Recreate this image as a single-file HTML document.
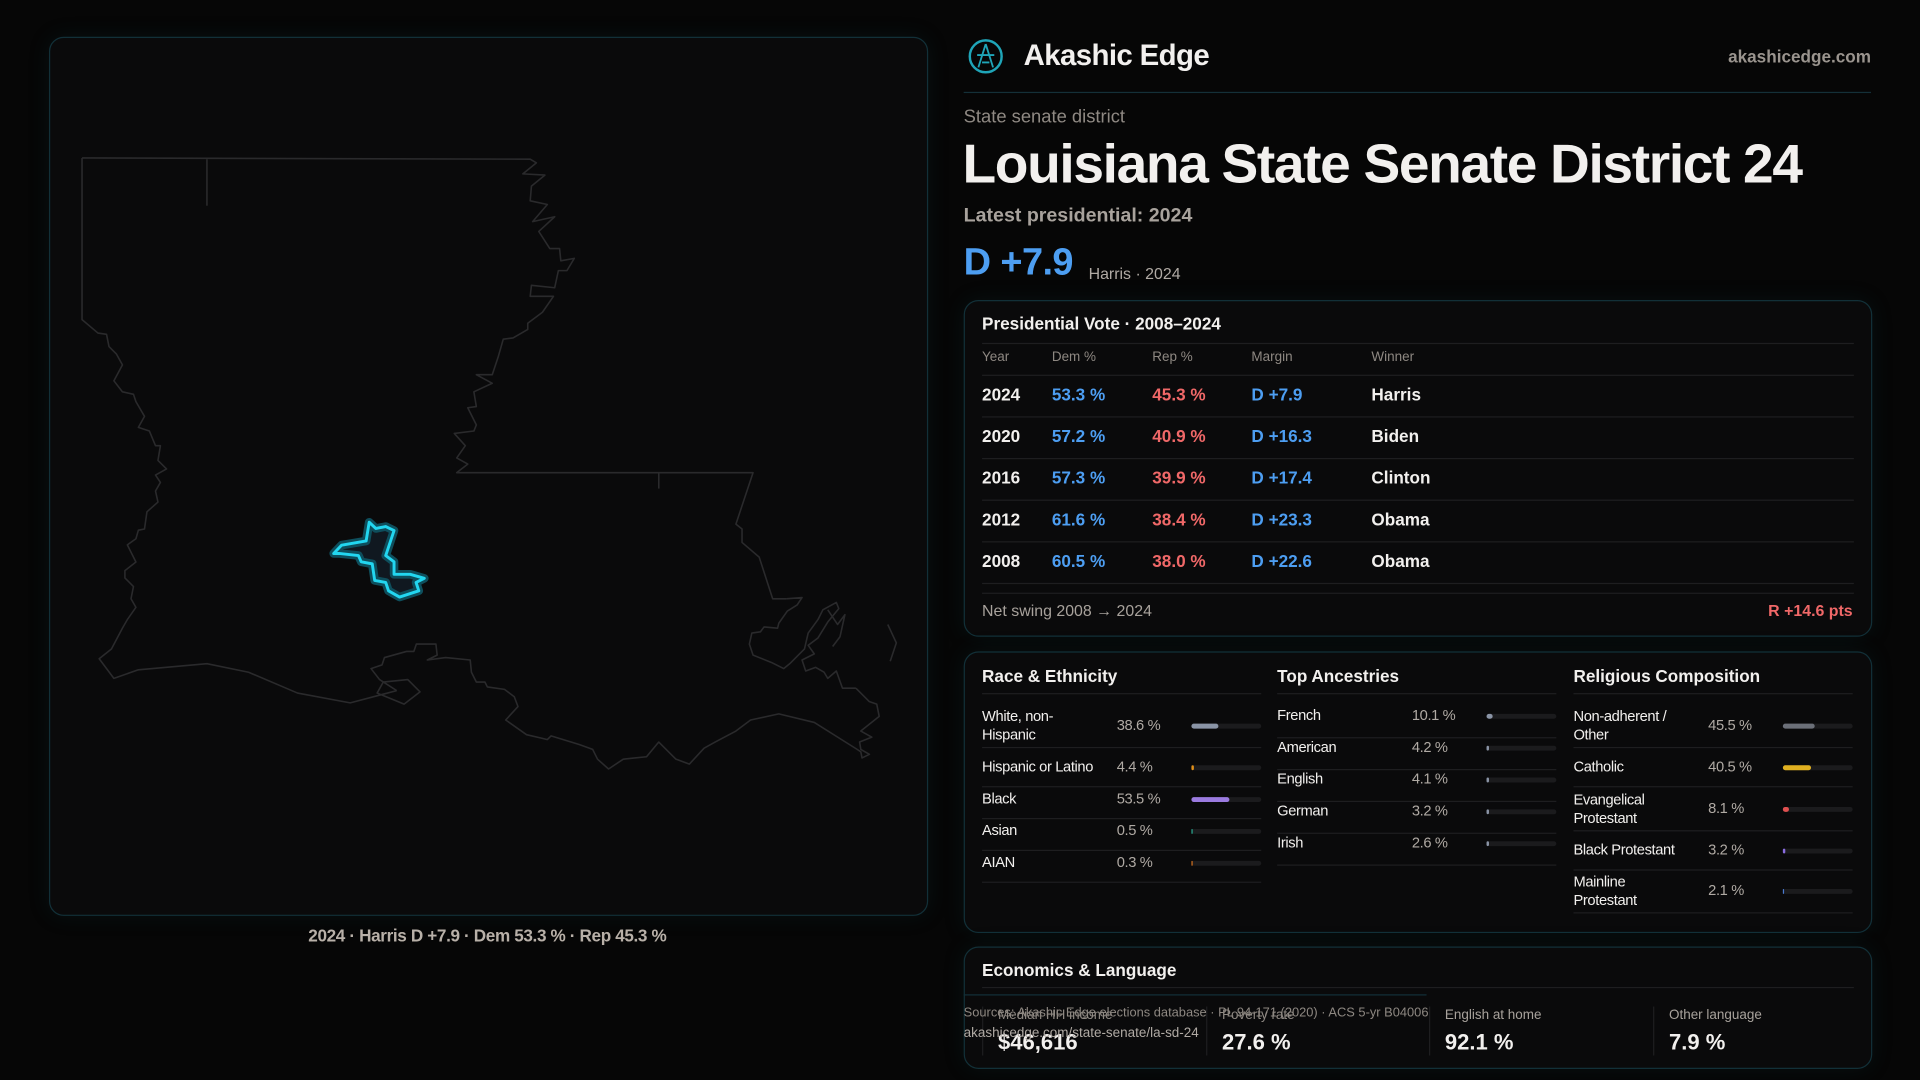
<!DOCTYPE html>
<html><head><meta charset="utf-8">
<style>
html,body{margin:0;padding:0;background:#060606;width:1920px;height:1080px;overflow:hidden}
#w{position:absolute;left:0;top:0;width:1568px;height:882px;transform:scale(1.22449);transform-origin:0 0;font-family:"Liberation Sans",sans-serif;color:#f2f0ee}
.a{position:absolute;white-space:nowrap}
.card{position:absolute;border:1px solid #123038;border-radius:12px;background:#0a0a0b;box-shadow:0 0 18px rgba(20,80,90,0.15)}
.hl{position:absolute;height:1px;background:#1e1e20}
.g{color:#8e8882}
.b{color:#4d9ef2}.r{color:#f06868}
.tr{position:absolute;height:4px;border-radius:2px;background:#1b1b1d;width:57px}
.br{position:absolute;left:0;top:0;height:4px;border-radius:2px}
.sm{font-size:12px;letter-spacing:-0.3px}
</style></head><body><div id="w">
<div class="card" style="left:40px;top:30px;width:716px;height:716px"></div>
<svg class="a" style="left:0;top:0" width="760" height="760" viewBox="0 0 760 760">
<g fill="none" stroke="#2a2a2c" stroke-width="1.3" stroke-linejoin="round">
<polyline points="67,129 433,130 438,133 427,142 445,143 434,152 433,164 447,167 435,181 453,177 440,189 449,203 457,203 458,213 469,211 463,221 456,221 453,235 434,233 433,242 452,242 443,255 431,264 431,269 419,276 411,277 407,291 402,306 389,306 402,313 387,320 389,332 382,333 389,347 387,352 371,354 380,364 373,374 382,379 373,386 615,386 601,428 606,432 606,443 620,455 631,489 642,489"/>
<line x1="169" y1="130" x2="169" y2="168"/>
<line x1="538" y1="386" x2="538" y2="399"/>
<polyline points="67,129 67,261 80,272 87,273 89,283 95,289 100,298 93,311 100,320 109,322 111,328 118,340 113,349 122,352 127,364 131,364 129,376 136,383 127,388 131,394 127,401 129,410 120,418 118,432 113,433 111,440 104,445 111,459 102,466 102,472 109,479 107,489 111,496 104,506 100,513 91,530 81,538 93,554 113,547 169,542 203,549 243,566 286,574 324,564"/>
<polyline points="324,564 310,555 303,546 312,543 314,537 332,532 338,532 340,526 356,526 357,535 349,539 364,537 384,539 385,549 389,557 396,557 398,561 412,563 420,569 423,577 413,588 430,600 443,603 447,604 450,601 473,608 484,612 488,620 497,628 509,620 528,618 538,606 552,620 563,624 575,611 584,606 601,597 613,588 636,583 665,590 700,612 703,614 704,619 710,616 703,612 702,606 712,602 703,597 718,585 716,575 710,573 699,562"/>
<polyline points="699,562 688,562 683,548 676,554 673,549 666,545 658,548 655,539 665,534 660,527 668,521 676,508 685,497 683,492 672,498 668,506 660,517 657,530 652,535 645,542 640,546 630,541 615,535 612,526 614,517 621,516 624,512 635,513 636,509 643,499 651,494 655,488 642,489"/>
<polygon points="313,557 333,555 343,565 330,575 308,566"/>
<polyline points="725,510 732,525 727,540"/>
<polyline points="676,498 684,510 690,502 686,520 680,528"/>
</g>
<polygon points="301.5,426.5 307,431.6 315,430 321.8,433.3 315,453.7 321.8,458.8 321.8,469 335,469 346.5,472.3 339.8,475.7 342,482.5 326.3,487.6 317.3,482.5 315,475.7 306,474 304,460.5 295,458.8 292.7,453.7 277,452 272.5,452 279,445.2 299,441.8" fill="#101820" stroke="#0e4e5c" stroke-width="7" stroke-linejoin="round"/>
<polygon points="301.5,426.5 307,431.6 315,430 321.8,433.3 315,453.7 321.8,458.8 321.8,469 335,469 346.5,472.3 339.8,475.7 342,482.5 326.3,487.6 317.3,482.5 315,475.7 306,474 304,460.5 295,458.8 292.7,453.7 277,452 272.5,452 279,445.2 299,441.8" fill="none" stroke="#22d6f0" stroke-width="2.4" stroke-linejoin="round"/>
</svg>
<div class="a" style="left:40px;width:716px;text-align:center;top:756px;font-size:14px;font-weight:bold;letter-spacing:-0.3px;color:#b8b0a8">2024 · Harris D +7.9 · Dem 53.3 % · Rep 45.3 %</div>

<svg class="a" style="left:790px;top:31px" width="30" height="30" viewBox="0 0 30 30"><circle cx="15" cy="15" r="13" fill="none" stroke="#1fa5b8" stroke-width="2"/><path d="M15 5 L9 24 M15 5 L21 24 M8 14 L22 14 M12 20 L18 20" stroke="#1fa5b8" stroke-width="1.5" fill="none"/></svg>
<div class="a" style="left:836px;top:32px;font-size:24px;font-weight:bold;letter-spacing:-0.5px">Akashic Edge</div>
<div class="a" style="right:40px;top:38px;font-size:14px;font-weight:bold;color:#9a948e">akashicedge.com</div>
<div class="hl" style="left:787px;top:75px;width:741px;background:#143038"></div>
<div class="a" style="left:787px;top:87px;font-size:15px;color:#8f8983">State senate district</div>
<div class="a" style="left:786px;top:108px;font-size:45px;font-weight:bold;letter-spacing:-1.1px">Louisiana State Senate District 24</div>
<div class="a" style="left:787px;top:168px;font-size:16px;font-weight:bold;color:#a8a29c">Latest presidential: 2024</div>
<div class="a b" style="left:787px;top:196px;font-size:31px;font-weight:bold;letter-spacing:-0.5px">D +7.9</div>
<div class="a" style="left:889px;top:216px;font-size:13px;color:#b0aaa4">Harris · 2024</div>

<div class="card" style="left:787px;top:245px;width:740px;height:273px"></div>
<div class="a" style="left:802px;top:256px;font-size:14px;font-weight:bold">Presidential Vote · 2008–2024</div>
<div class="hl" style="left:802px;top:280px;width:712px"></div>
<div class="a g" style="left:802px;top:286px;font-size:11px">Year</div>
<div class="a g" style="left:859px;top:286px;font-size:11px">Dem %</div>
<div class="a g" style="left:941px;top:286px;font-size:11px">Rep %</div>
<div class="a g" style="left:1022px;top:286px;font-size:11px">Margin</div>
<div class="a g" style="left:1120px;top:286px;font-size:11px">Winner</div>
<div class="hl" style="left:802px;top:306px;width:712px"></div>
<div style="position:absolute;left:0;top:0;font-size:14px;font-weight:bold">
<div class="a" style="left:802px;top:314px">2024</div><div class="a b" style="left:859px;top:314px">53.3 %</div><div class="a r" style="left:941px;top:314px">45.3 %</div><div class="a b" style="left:1022px;top:314px">D +7.9</div><div class="a" style="left:1120px;top:314px">Harris</div>
<div class="a" style="left:802px;top:348px">2020</div><div class="a b" style="left:859px;top:348px">57.2 %</div><div class="a r" style="left:941px;top:348px">40.9 %</div><div class="a b" style="left:1022px;top:348px">D +16.3</div><div class="a" style="left:1120px;top:348px">Biden</div>
<div class="a" style="left:802px;top:382px">2016</div><div class="a b" style="left:859px;top:382px">57.3 %</div><div class="a r" style="left:941px;top:382px">39.9 %</div><div class="a b" style="left:1022px;top:382px">D +17.4</div><div class="a" style="left:1120px;top:382px">Clinton</div>
<div class="a" style="left:802px;top:416px">2012</div><div class="a b" style="left:859px;top:416px">61.6 %</div><div class="a r" style="left:941px;top:416px">38.4 %</div><div class="a b" style="left:1022px;top:416px">D +23.3</div><div class="a" style="left:1120px;top:416px">Obama</div>
<div class="a" style="left:802px;top:450px">2008</div><div class="a b" style="left:859px;top:450px">60.5 %</div><div class="a r" style="left:941px;top:450px">38.0 %</div><div class="a b" style="left:1022px;top:450px">D +22.6</div><div class="a" style="left:1120px;top:450px">Obama</div>
</div>
<div class="hl" style="left:802px;top:340px;width:712px"></div>
<div class="hl" style="left:802px;top:374px;width:712px"></div>
<div class="hl" style="left:802px;top:408px;width:712px"></div>
<div class="hl" style="left:802px;top:442px;width:712px"></div>
<div class="hl" style="left:802px;top:476px;width:712px"></div>
<div class="hl" style="left:802px;top:484px;width:712px"></div>
<div class="a" style="left:802px;top:491px;font-size:13px;color:#a8a29c">Net swing 2008 → 2024</div>
<div class="a r" style="right:55px;top:491px;font-size:13px;font-weight:bold">R +14.6 pts</div>

<div class="card" style="left:787px;top:532px;width:740px;height:228px"></div>
<div class="a" style="left:802px;top:544px;font-size:14px;font-weight:bold">Race &amp; Ethnicity</div>
<div class="a" style="left:1043px;top:544px;font-size:14px;font-weight:bold">Top Ancestries</div>
<div class="a" style="left:1285px;top:544px;font-size:14px;font-weight:bold">Religious Composition</div>
<div class="hl" style="left:802px;top:566px;width:228px"></div>
<div class="hl" style="left:1043px;top:566px;width:228px"></div>
<div class="hl" style="left:1285px;top:566px;width:228px"></div>
<div class="sm" style="position:absolute;left:0;top:0">
<div class="a" style="left:802px;top:578px;line-height:15px">White, non-<br>Hispanic</div><div class="a g" style="left:912px;top:585px;color:#b0aaa4">38.6 %</div>
<div class="tr" style="left:973px;top:591px"><div class="br" style="width:22px;background:#8a94a6"></div></div>
<div class="hl" style="left:802px;top:610px;width:228px"></div>
<div class="a" style="left:802px;top:619px">Hispanic or Latino</div><div class="a" style="left:912px;top:619px;color:#b0aaa4">4.4 %</div>
<div class="tr" style="left:973px;top:625px"><div class="br" style="width:2px;background:#e0901a"></div></div>
<div class="hl" style="left:802px;top:642px;width:228px"></div>
<div class="a" style="left:802px;top:645px">Black</div><div class="a" style="left:912px;top:645px;color:#b0aaa4">53.5 %</div>
<div class="tr" style="left:973px;top:651px"><div class="br" style="width:31px;background:#9b7be0"></div></div>
<div class="hl" style="left:802px;top:668px;width:228px"></div>
<div class="a" style="left:802px;top:671px">Asian</div><div class="a" style="left:912px;top:671px;color:#b0aaa4">0.5 %</div>
<div class="tr" style="left:973px;top:677px"><div class="br" style="width:1px;background:#2aa890"></div></div>
<div class="hl" style="left:802px;top:694px;width:228px"></div>
<div class="a" style="left:802px;top:697px">AIAN</div><div class="a" style="left:912px;top:697px;color:#b0aaa4">0.3 %</div>
<div class="tr" style="left:973px;top:703px"><div class="br" style="width:1px;background:#d07020"></div></div>
<div class="hl" style="left:802px;top:720px;width:228px"></div>

<div class="a" style="left:1043px;top:577px">French</div><div class="a" style="left:1153px;top:577px;color:#b0aaa4">10.1 %</div>
<div class="tr" style="left:1214px;top:583px"><div class="br" style="width:5px;background:#8a94a6"></div></div>
<div class="hl" style="left:1043px;top:602px;width:228px"></div>
<div class="a" style="left:1043px;top:603px">American</div><div class="a" style="left:1153px;top:603px;color:#b0aaa4">4.2 %</div>
<div class="tr" style="left:1214px;top:609px"><div class="br" style="width:2px;background:#8a94a6"></div></div>
<div class="hl" style="left:1043px;top:628px;width:228px"></div>
<div class="a" style="left:1043px;top:629px">English</div><div class="a" style="left:1153px;top:629px;color:#b0aaa4">4.1 %</div>
<div class="tr" style="left:1214px;top:635px"><div class="br" style="width:2px;background:#8a94a6"></div></div>
<div class="hl" style="left:1043px;top:654px;width:228px"></div>
<div class="a" style="left:1043px;top:655px">German</div><div class="a" style="left:1153px;top:655px;color:#b0aaa4">3.2 %</div>
<div class="tr" style="left:1214px;top:661px"><div class="br" style="width:2px;background:#8a94a6"></div></div>
<div class="hl" style="left:1043px;top:680px;width:228px"></div>
<div class="a" style="left:1043px;top:681px">Irish</div><div class="a" style="left:1153px;top:681px;color:#b0aaa4">2.6 %</div>
<div class="tr" style="left:1214px;top:687px"><div class="br" style="width:2px;background:#8a94a6"></div></div>
<div class="hl" style="left:1043px;top:706px;width:228px"></div>

<div class="a" style="left:1285px;top:578px;line-height:15px">Non-adherent /<br>Other</div><div class="a" style="left:1395px;top:585px;color:#b0aaa4">45.5 %</div>
<div class="tr" style="left:1456px;top:591px"><div class="br" style="width:26px;background:#6b6f78"></div></div>
<div class="hl" style="left:1285px;top:610px;width:228px"></div>
<div class="a" style="left:1285px;top:619px">Catholic</div><div class="a" style="left:1395px;top:619px;color:#b0aaa4">40.5 %</div>
<div class="tr" style="left:1456px;top:625px"><div class="br" style="width:23px;background:#e0b020"></div></div>
<div class="hl" style="left:1285px;top:642px;width:228px"></div>
<div class="a" style="left:1285px;top:646px;line-height:15px">Evangelical<br>Protestant</div><div class="a" style="left:1395px;top:653px;color:#b0aaa4">8.1 %</div>
<div class="tr" style="left:1456px;top:659px"><div class="br" style="width:5px;background:#e05050"></div></div>
<div class="hl" style="left:1285px;top:678px;width:228px"></div>
<div class="a" style="left:1285px;top:687px">Black Protestant</div><div class="a" style="left:1395px;top:687px;color:#b0aaa4">3.2 %</div>
<div class="tr" style="left:1456px;top:693px"><div class="br" style="width:2px;background:#8a6ce0"></div></div>
<div class="hl" style="left:1285px;top:710px;width:228px"></div>
<div class="a" style="left:1285px;top:713px;line-height:15px">Mainline<br>Protestant</div><div class="a" style="left:1395px;top:720px;color:#b0aaa4">2.1 %</div>
<div class="tr" style="left:1456px;top:726px"><div class="br" style="width:1px;background:#4a7ad0"></div></div>
<div class="hl" style="left:1285px;top:745px;width:228px"></div>
</div>

<div class="card" style="left:787px;top:773px;width:740px;height:98px"></div>
<div class="a" style="left:802px;top:784px;font-size:14px;font-weight:bold">Economics &amp; Language</div>
<div class="hl" style="left:802px;top:806px;width:712px"></div>
<div class="hl" style="left:787px;top:812px;width:378px;background:#143038"></div>
<div class="hl" style="left:802px;top:822px;width:1px;height:40px"></div>
<div class="hl" style="left:985px;top:822px;width:1px;height:40px"></div>
<div class="hl" style="left:1167px;top:822px;width:1px;height:40px"></div>
<div class="hl" style="left:1350px;top:822px;width:1px;height:40px"></div>
<div class="a g" style="left:815px;top:823px;font-size:11px">Median HH income</div>
<div class="a g" style="left:998px;top:823px;font-size:11px">Poverty rate</div>
<div class="a" style="left:1180px;top:823px;font-size:11px;color:#a8a29c">English at home</div>
<div class="a" style="left:1363px;top:823px;font-size:11px;color:#a8a29c">Other language</div>
<div class="a" style="left:815px;top:841px;font-size:18px;font-weight:bold">$46,616</div>
<div class="a" style="left:998px;top:841px;font-size:18px;font-weight:bold">27.6 %</div>
<div class="a" style="left:1180px;top:841px;font-size:18px;font-weight:bold">92.1 %</div>
<div class="a" style="left:1363px;top:841px;font-size:18px;font-weight:bold">7.9 %</div>
<div class="a" style="left:787px;top:821px;font-size:10.5px;color:#8e8882">Sources: Akashic Edge elections database · PL 94-171 (2020) · ACS 5-yr B04006</div>
<div class="a" style="left:787px;top:838px;font-size:11px;color:#b0aaa4">akashicedge.com/state-senate/la-sd-24</div>
</div></body></html>
